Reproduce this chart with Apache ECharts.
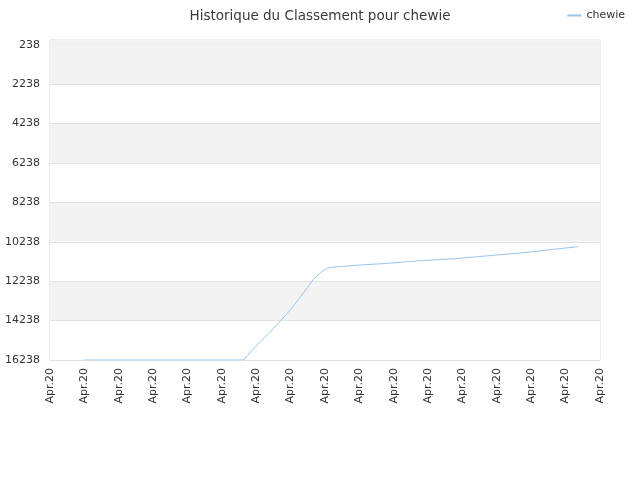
<!DOCTYPE html>
<html><head><meta charset="utf-8">
<script src="https://cdn.jsdelivr.net/npm/echarts@6/dist/echarts.min.js"></script>
<style>html,body{margin:0;padding:0;background:#fff}#c{width:640px;height:480px}</style>
</head><body><div id="c"></div>
<script>
var categories = Array(129).fill('Apr.20');
var yTicks = [238, 2238, 4238, 6238, 8238, 10238, 12238, 14238, 16238];
var flatStart = 8;
var values = [
16238,16238,16238,16238,16238,16238,16238,16238,16238,16238,
16238,16238,16238,16238,16238,16238,16238,16238,16238,16238,
16238,16238,16238,16238,16238,16238,16238,16238,16238,16238,
16238,16238,16238,16238,16238,16238,16238,16238,
16000,15760,15530,15300,15090,14870,14640,14400,14160,13920,
13680,13400,13120,12830,12530,12230,12000,11800,11640,11545,
11527,11509,11491,11473,11455,11437,11422,11408,11394,11380,
11367,11354,11341,11325,11308,11290,11272,11254,11237,11220,
11204,11191,11178,11165,11152,11139,11126,11113,11100,11081,
11062,11043,11024,11005,10986,10967,10948,10929,10910,10891,
10872,10853,10834,10815,10795,10772,10748,10724,10700,10676,
10652,10628,10604,10580,10556,10532,10508,10484
];
var seriesData = categories.map(function(_, i){
  var j = i - flatStart;
  return (j >= 0 && j < values.length) ? values[j] : null;
});
var chart = echarts.init(document.getElementById('c'));
chart.setOption({
  animation: false,
  title: {text: 'Historique du Classement pour chewie', left: 'center', top: 4,
    textStyle: {fontSize: 13.5, fontWeight: 'normal', color: '#3a3a3a', fontFamily: 'DejaVu Sans'}},
  legend: {right: 10, top: 5, itemWidth: 14, itemHeight: 2, icon: 'rect', itemGap: 8,
    textStyle: {fontSize: 11, color: '#333', fontFamily: 'DejaVu Sans'},
    data: ['chewie']},
  grid: {left: 50, right: 40, top: 40, bottom: 120, show: true, borderColor: '#ddd', borderWidth: 1},
  xAxis: {type: 'category', data: categories, boundaryGap: false,
    axisLine: {show: true, lineStyle: {color: '#ddd'}},
    axisTick: {show: false},
    axisLabel: {interval: 7, rotate: 90, fontSize: 11, color: '#333', fontFamily: 'DejaVu Sans', margin: 8, showMaxLabel: true},
    splitLine: {show: false}},
  yAxis: {type: 'value', inverse: true, min: 0, max: 16238,
    axisLine: {show: false},
    axisTick: {show: false, customValues: yTicks},
    axisLabel: {customValues: yTicks, fontSize: 11, color: '#333', fontFamily: 'DejaVu Sans', margin: 10,
      formatter: function(v){ return String(v); }},
    splitLine: {show: true, lineStyle: {color: '#e2e2e2'}},
    splitArea: {show: true, areaStyle: {color: ['#f3f3f3', '#ffffff']}}},
  series: [{name: 'chewie', type: 'line', data: seriesData, showSymbol: false, symbol: 'none',
    lineStyle: {width: 1, color: '#94c4f0'}, itemStyle: {color: '#94c4f0'},
    markArea: {silent: true, itemStyle: {color: '#f3f3f3'},
      data: [[{yAxis: 0}, {yAxis: yTicks[0]}]]}}]
});
</script></body></html>
